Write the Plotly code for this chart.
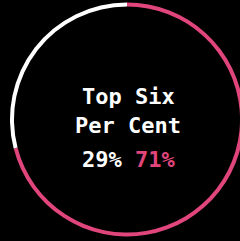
import plotly.graph_objects as go

labels = ["Top Six", "Rest"]
values = [71, 29]
colors = ["#e0457b", "#ffffff"]
title_lines = ["Top Six", "Per Cent"]

W, H = 254, 241
ML, MR, MT, MB = 10, 10, 2, 4
PW, PH = W - ML - MR, H - MT - MB

def px_x(x):
    return (x - ML) / PW

def px_y(y):
    return 1 - (y - MT) / PH

fig = go.Figure(go.Pie(
    labels=labels, values=values, sort=False, direction="clockwise", rotation=0,
    hole=0.966, marker=dict(colors=colors, line=dict(width=0)),
    textinfo="none", hoverinfo="skip", showlegend=False,
))

font = dict(family="DejaVu Sans Mono", size=22, color="#ffffff")
ann = []
for txt, yc in zip(title_lines, [96.5, 125.5]):
    ann.append(dict(text=f"<b>{txt}</b>", x=px_x(128), y=px_y(yc), xref="paper", yref="paper",
                    xanchor="center", yanchor="middle", showarrow=False, font=font))
ann.append(dict(text=f"<b>{values[1]}% <span style='color:{colors[0]}'>{values[0]}%</span></b>",
                x=px_x(128.5), y=px_y(159.5), xref="paper", yref="paper",
                xanchor="center", yanchor="middle", showarrow=False, font=font))

fig.update_layout(
    width=W, height=H, margin=dict(l=ML, r=MR, t=MT, b=MB),
    paper_bgcolor="#000000", plot_bgcolor="#000000", annotations=ann,
)

fig.write_html("out.html", config={"displayModeBar": False},
               post_script="document.documentElement.style.overflow='hidden';document.body.style.overflow='hidden';document.body.style.margin='0';")
